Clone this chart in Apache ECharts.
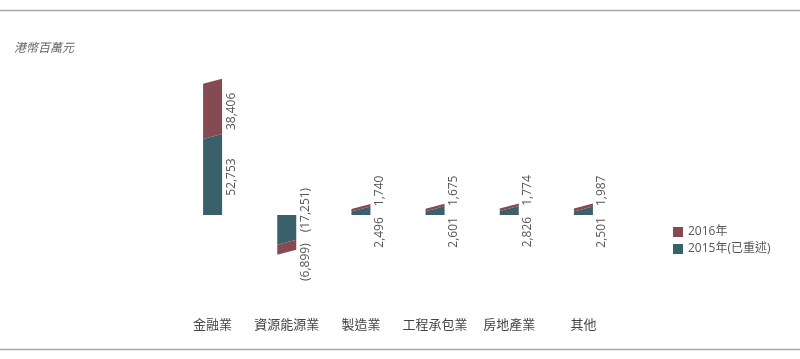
<!DOCTYPE html>
<html><head><meta charset="utf-8">
<script src="https://cdn.jsdelivr.net/npm/echarts@6/dist/echarts.min.js"></script>
<style>html,body{margin:0;padding:0;background:#fff}#c{width:800px;height:359px}</style>
</head><body><div id="c"></div>
<script>
var categories = ['金融業','資源能源業','製造業','工程承包業','房地產業','其他'];
var values2015 = [52753, -17251, 2496, 2601, 2826, 2501];
var values2016 = [38406, -6899, 1740, 1675, 1774, 1987];
var seriesNames = ['2016年','2015年(已重述)'];
var unitLabel = '港幣百萬元';

var COLOR16 = '#864a52', COLOR15 = '#3a6169';
var BAR_W = 19, SLANT = 5, LABEL_FONT = '12px "Open Sans", sans-serif', GAP = 11;

var ctx = document.createElement('canvas').getContext('2d');
ctx.font = LABEL_FONT;
function fmt(v){ var s = Math.abs(v).toLocaleString('en-US'); return v < 0 ? '(' + s + ')' : s; }

function edgeY(api, idx, v, side){
  var y = api.coord([idx, v])[1];
  if (v > 0) return side === 'R' ? y - SLANT : y;
  if (v < 0) return side === 'L' ? y + SLANT : y;
  return y;
}
function labelCenters(api, idx){
  var a = values2015[idx], b = values2016[idx];
  var y0 = api.coord([idx, 0])[1], y1 = api.coord([idx, a])[1], y2 = api.coord([idx, a + b])[1];
  var c1 = (y0 + y1) / 2, c2 = (y1 + y2) / 2;
  var L1 = ctx.measureText(fmt(a)).width, L2 = ctx.measureText(fmt(b)).width;
  var need = (L1 + L2) / 2 + GAP;
  if (Math.abs(c1 - c2) < need) {
    var m = (c1 + c2) / 2, dir = (c1 > c2) ? 1 : -1;
    c1 = m + dir * need / 2; c2 = m - dir * need / 2;
  }
  return [c1, c2];
}
function makeRender(which){
  return function(params, api){
    var idx = params.dataIndex;
    var a = values2015[idx], b = values2016[idx];
    var lo = which === 0 ? 0 : a, hi = which === 0 ? a : a + b;
    var cx = api.coord([idx, 0])[0];
    var x0 = cx - BAR_W / 2, x1 = cx + BAR_W / 2;
    var pts = [[x0, edgeY(api, idx, lo, 'L')], [x1, edgeY(api, idx, lo, 'R')],
               [x1, edgeY(api, idx, hi, 'R')], [x0, edgeY(api, idx, hi, 'L')]];
    var cs = labelCenters(api, idx);
    return {type:'group', children:[
      {type:'polygon', shape:{points:pts}, style:{fill: which === 0 ? COLOR15 : COLOR16}},
      {type:'text', x: x1 + 9, y: cs[which], rotation: Math.PI / 2,
       style:{text: fmt(which === 0 ? a : b), font: LABEL_FONT, fill:'#555', align:'center', verticalAlign:'middle'}}
    ]};
  };
}

var chart = echarts.init(document.getElementById('c'), null, {renderer:'canvas'});
chart.setOption({
  animation:false,
  title:{text:unitLabel, left:9, top:36, textStyle:{fontSize:12, fontStyle:'italic', fontWeight:'normal', color:'#666', fontFamily:'"Noto Sans CJK TC", sans-serif'}},
  legend:{orient:'vertical', left:668, top:221, itemWidth:10, itemHeight:10, itemGap:5, icon:'rect',
    data:seriesNames, textStyle:{fontSize:12, color:'#555', fontFamily:'"Open Sans","Noto Sans CJK TC", sans-serif'}},
  grid:{left:175.5, width:445, top:71, height:216},
  xAxis:{type:'category', data:categories, axisLine:{show:false}, axisTick:{show:false}, splitLine:{show:false},
    axisLabel:{interval:0, margin:31, fontSize:13, color:'#444', fontFamily:'"Noto Sans CJK TC", sans-serif'}},
  yAxis:{type:'value', min:-50000, max:100000, show:false},
  graphic:[
    {type:'line', shape:{x1:0, y1:10.5, x2:800, y2:10.5}, style:{stroke:'#a8a8a8', lineWidth:1.5}},
    {type:'line', shape:{x1:0, y1:349.5, x2:800, y2:349.5}, style:{stroke:'#a8a8a8', lineWidth:1.5}}
  ],
  series:[
    {name:seriesNames[1], type:'custom', renderItem:makeRender(0), itemStyle:{color:COLOR15},
      data:categories.map(function(c,i){return [i, values2015[i]];}), encode:{x:0, y:1}},
    {name:seriesNames[0], type:'custom', renderItem:makeRender(1), itemStyle:{color:COLOR16},
      data:categories.map(function(c,i){return [i, values2015[i] + values2016[i]];}), encode:{x:0, y:1}}
  ]
});
</script></body></html>
